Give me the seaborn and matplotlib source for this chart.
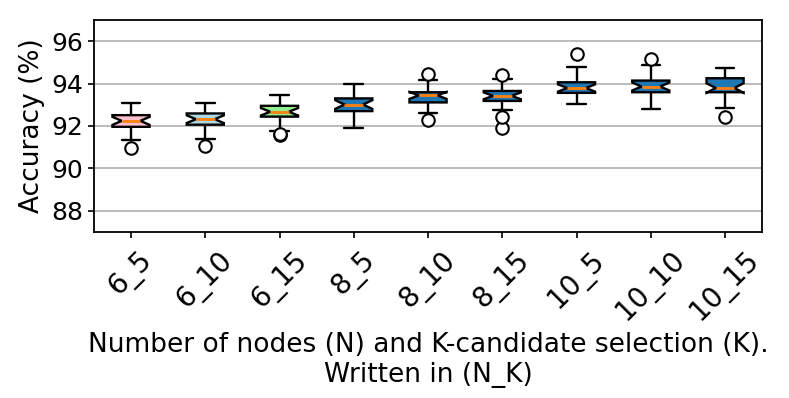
import numpy as np
import pandas as pd
import seaborn as sns
import matplotlib
matplotlib.use("Agg")
import matplotlib.pyplot as plt

# Configurations (N_K) and the box summaries
configs = ["6_5", "6_10", "6_15", "8_5", "8_10", "8_15", "10_5", "10_10", "10_15"]
whis_low = [91.34, 91.40, 91.77, 91.89, 92.62, 92.73, 93.03, 92.81, 92.85]
q1 = [91.96, 92.06, 92.44, 92.70, 93.11, 93.18, 93.56, 93.59, 93.59]
median = [92.24, 92.32, 92.67, 93.01, 93.44, 93.42, 93.79, 93.86, 93.79]
q3 = [92.51, 92.59, 92.95, 93.30, 93.59, 93.65, 94.06, 94.14, 94.25]
whis_high = [93.06, 93.06, 93.48, 94.00, 94.19, 94.23, 94.77, 94.89, 94.73]
outliers_low = [[90.98], [91.06], [91.58, 91.64], [], [92.28], [91.89, 92.42], [], [], [92.40]]
outliers_high = [[], [], [], [], [94.47], [94.42], [95.41], [95.14], []]
box_colors = ["pink", "lightblue", "lightgreen"] + ["#1f77b4"] * 6

# 21 runs per config: quartiles land exactly on runs 6, 11 and 16
rows = []
for i, c in enumerate(configs):
    low = outliers_low[i] + [whis_low[i]] * (5 - len(outliers_low[i]))
    high = [whis_high[i]] * (5 - len(outliers_high[i])) + outliers_high[i]
    runs = low + [q1[i]] * 3 + [median[i]] * 5 + [q3[i]] * 3 + high
    for v in runs:
        rows.append({"config": c, "acc": v})
df = pd.DataFrame(rows)

sns.set_style("ticks", {"axes.edgecolor": "black", "xtick.color": "black",
                        "ytick.color": "black", "text.color": "black",
                        "axes.labelcolor": "black"})
plt.rcParams["font.family"] = ["DejaVu Sans"]

fig, ax = plt.subplots(figsize=(7.89, 3.98), dpi=100)
sns.boxplot(data=df, x="config", y="acc", hue="config", palette=box_colors,
            notch=True, width=0.5, saturation=1, linecolor="black", linewidth=1.7,
            medianprops=dict(color="#ff7f0e", linewidth=2),
            flierprops=dict(marker="o", markerfacecolor="white",
                            markeredgecolor="black", markersize=9, markeredgewidth=1.5),
            legend=False, ax=ax)

ax.set_ylim(87, 97)
ax.set_xlim(-0.5, 8.5)
ax.set_yticks([88, 90, 92, 94, 96])
ax.yaxis.grid(True, color="#b0b0b0", linewidth=1.2)
ax.set_axisbelow(True)
ax.tick_params(length=4.5, width=1.2)
ax.tick_params(axis="y", labelsize=18)
ax.tick_params(axis="x", labelsize=20, pad=6)
plt.setp(ax.get_xticklabels(), rotation=45)
ax.set_ylabel("Accuracy (%)", fontsize=19)
ax.set_xlabel("Number of nodes (N) and K-candidate selection (K).\nWritten in (N_K)",
              fontsize=19)
for s in ax.spines.values():
    s.set_linewidth(1.3)

fig.subplots_adjust(left=0.119, right=0.966, top=0.950, bottom=0.417)
fig.savefig("out.png", dpi=100)
